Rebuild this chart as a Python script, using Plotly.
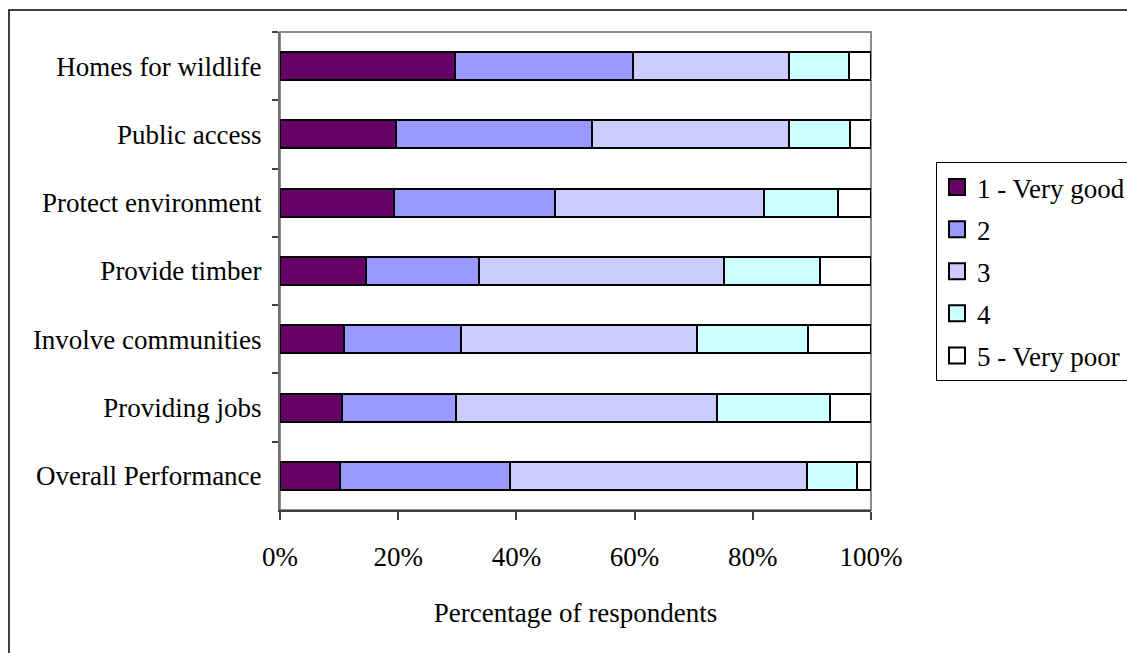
import plotly.graph_objects as go

# Survey: rating of forest management by aspect (percentage of respondents)
aspects = [
    "Homes for wildlife",
    "Public access",
    "Protect environment",
    "Provide timber",
    "Involve communities",
    "Providing jobs",
    "Overall Performance",
]

rating_names = ["1 - Very good", "2", "3", "4", "5 - Very poor"]

very_good = [29.6, 19.6, 19.3, 14.5, 10.9, 10.5, 10.1]
rating_2 = [30.1, 33.2, 27.3, 19.2, 19.7, 19.2, 28.8]
rating_3 = [26.4, 33.4, 35.3, 41.4, 40.0, 44.2, 50.2]
rating_4 = [10.1, 10.3, 12.5, 16.2, 18.8, 19.2, 8.6]
very_poor = [3.8, 3.5, 5.6, 8.7, 10.6, 6.9, 2.3]

x_ticks = [0, 20, 40, 60, 80, 100]

series = [very_good, rating_2, rating_3, rating_4, very_poor]
colors = ["#660066", "#9999FF", "#CCCCFF", "#CCFFFF", "#FFFFFF"]

FONT = "Liberation Serif, Times New Roman, serif"
FS = 27

fig = go.Figure()
for name, vals, col in zip(rating_names, series, colors):
    fig.add_trace(go.Bar(
        y=aspects,
        x=vals,
        name=name,
        orientation="h",
        legendgroup=name,
        showlegend=False,
        marker=dict(color=col, line=dict(color="black", width=2)),
        hoverinfo="name+x",
    ))

# legend keys: square swatches with a heavy black outline
for name, col in zip(rating_names, colors):
    fig.add_trace(go.Scatter(
        x=[None], y=[None],
        mode="markers",
        name=name,
        legendgroup=name,
        marker=dict(symbol="square", size=16, color=col,
                    line=dict(color="black", width=2)),
    ))

# plot area: x 280..871, y 32..510 in a 1127x653 page
L, R, T, B = 280, 871, 32, 510
W, H = 1127, 653
pw, ph = R - L, B - T

fig.update_layout(
    width=W, height=H,
    margin=dict(l=L, r=W - R, t=T, b=H - B, autoexpand=False),
    barmode="stack",
    bargap=0.59,
    paper_bgcolor="white",
    plot_bgcolor="white",
    font=dict(family=FONT, size=FS, color="black"),
    showlegend=True,
    legend=dict(
        x=(936 - L) / pw, y=(B - 162) / ph,
        xanchor="left", yanchor="top",
        bordercolor="black", borderwidth=1,
        bgcolor="white",
        font=dict(family=FONT, size=FS, color="black"),
        traceorder="grouped",
        tracegroupgap=4,
        itemclick=False,
        itemdoubleclick=False,
    ),
    xaxis=dict(
        range=[0, 100],
        tickvals=x_ticks,
        ticktext=[f"{v}%" for v in x_ticks],
        showgrid=False, zeroline=False,
        showline=True, linecolor="#404040", linewidth=2,
        ticks="outside", ticklen=8, tickwidth=1.5, tickcolor="#404040",
        ticklabelstandoff=14,
        title=dict(text="Percentage of respondents", standoff=32,
                   font=dict(family=FONT, size=FS)),
        fixedrange=True,
    ),
    yaxis=dict(
        categoryorder="array", categoryarray=aspects,
        autorange="reversed",
        showgrid=False, zeroline=False,
        showline=True, linecolor="#707070", linewidth=2,
        ticks="outside", ticklen=6, tickwidth=1.5, tickcolor="#404040",
        tickson="boundaries",
        ticklabelstandoff=11,
        fixedrange=True,
    ),
    shapes=[
        # grey frame around the plot area
        dict(type="rect", xref="paper", yref="paper", x0=0, x1=1, y0=0, y1=1,
             line=dict(color="#8c8c8c", width=2), layer="below"),
        # outer chart border
        dict(type="rect", xref="paper", yref="paper",
             x0=(9 - L) / pw, x1=(W + 20 - L) / pw,
             y0=(B - (H + 20)) / ph, y1=(B - 10) / ph,
             line=dict(color="black", width=1.5), layer="below"),
    ],
)

fig.write_html("out.html")
